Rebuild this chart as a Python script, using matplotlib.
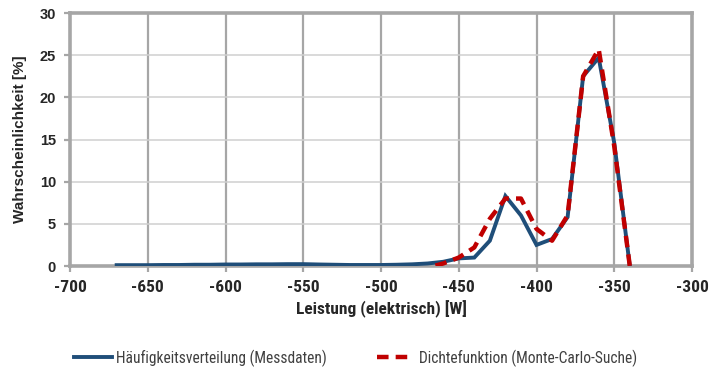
import matplotlib
matplotlib.use("Agg")
import matplotlib.pyplot as plt
import logging

logging.getLogger("matplotlib.font_manager").setLevel(logging.ERROR)
plt.rcParams["axes.unicode_minus"] = False

# Measured frequency distribution (W, %)
power_meas = [-670, -660, -650, -640, -630, -620, -610, -600, -590, -580, -570,
              -560, -550, -540, -530, -520, -510, -500, -490, -480, -470, -460,
              -450, -440, -430, -420, -410, -400, -390, -380, -370, -360, -350, -340]
prob_meas = [0.10, 0.10, 0.10, 0.12, 0.12, 0.15, 0.15, 0.18, 0.18, 0.20, 0.20,
             0.22, 0.22, 0.18, 0.15, 0.12, 0.12, 0.12, 0.15, 0.20, 0.30, 0.50,
             0.90, 1.00, 3.00, 8.30, 6.00, 2.50, 3.20, 5.80, 22.5, 24.7, 14.6, 0.0]

# Density function from Monte-Carlo search (W, %)
power_mc = [-465, -460, -450, -440, -430, -420, -410, -400, -390, -380, -370, -360, -350, -340]
prob_mc = [0.05, 0.30, 1.00, 2.20, 5.60, 8.00, 8.00, 4.40, 3.00, 6.00, 22.5, 25.7, 14.2, 0.0]

x_ticks = [-700, -650, -600, -550, -500, -450, -400, -350, -300]
y_ticks = [0, 5, 10, 15, 20, 25, 30]

narrow = ["Roboto Condensed", "Liberation Sans Narrow", "Liberation Sans"]
regular = ["Liberation Sans", "DejaVu Sans"]

fig = plt.figure(figsize=(7.11, 3.67), dpi=100)
ax = fig.add_axes([70 / 711, 1 - 266 / 367, 622 / 711, 253 / 367])

ax.plot(power_meas, prob_meas, color="#1f4e79", lw=2.8, solid_joinstyle="miter",
        label="Häufigkeitsverteilung (Messdaten)", zorder=3)
ax.plot(power_mc, prob_mc, color="#c00000", lw=3.2, dashes=(2.6, 1.6),
        label="Dichtefunktion (Monte-Carlo-Suche)", zorder=4)

ax.set_xlim(-700, -300)
ax.set_ylim(0, 30)
ax.set_xticks(x_ticks)
ax.set_yticks(y_ticks)

# grid: vertical lines heavier than horizontal ones
for xv in x_ticks[1:-1]:
    ax.axvline(xv, color="#a6a6a6", lw=1.6, zorder=1)
for yv in y_ticks[1:-1]:
    ax.axhline(yv, color="#cfcfcf", lw=1.1, zorder=1)

for s in ax.spines.values():
    s.set_color("#a6a6a6")
    s.set_linewidth(2.6)

ax.tick_params(axis="both", colors="#a6a6a6", width=1.6, length=4, direction="out")
for lab in ax.get_xticklabels():
    lab.set_fontfamily(narrow)
    lab.set_fontweight("bold")
    lab.set_fontsize(12.5)
    lab.set_color("#262626")
for lab in ax.get_yticklabels():
    lab.set_fontfamily(regular)
    lab.set_fontweight("bold")
    lab.set_fontsize(10.5)
    lab.set_color("#262626")
ax.tick_params(axis="x", pad=6)
ax.tick_params(axis="y", pad=6)

ax.set_xlabel("Leistung (elektrisch) [W]", fontfamily=narrow, fontweight="bold",
              fontsize=12.5, color="#262626", labelpad=4)
ax.set_ylabel("Wahrscheinlichkeit [%]", fontfamily=regular, fontweight="bold",
              fontsize=11, color="#262626", labelpad=9)

leg = fig.legend(loc="center", bbox_to_anchor=(0.5, 1 - 358 / 367), ncol=2,
                 frameon=False, handlelength=2.4, handletextpad=0.3, columnspacing=3.2,
                 prop={"family": narrow, "size": 11.2})
for t in leg.get_texts():
    t.set_color("#404040")

fig.savefig("out.png", dpi=100)
